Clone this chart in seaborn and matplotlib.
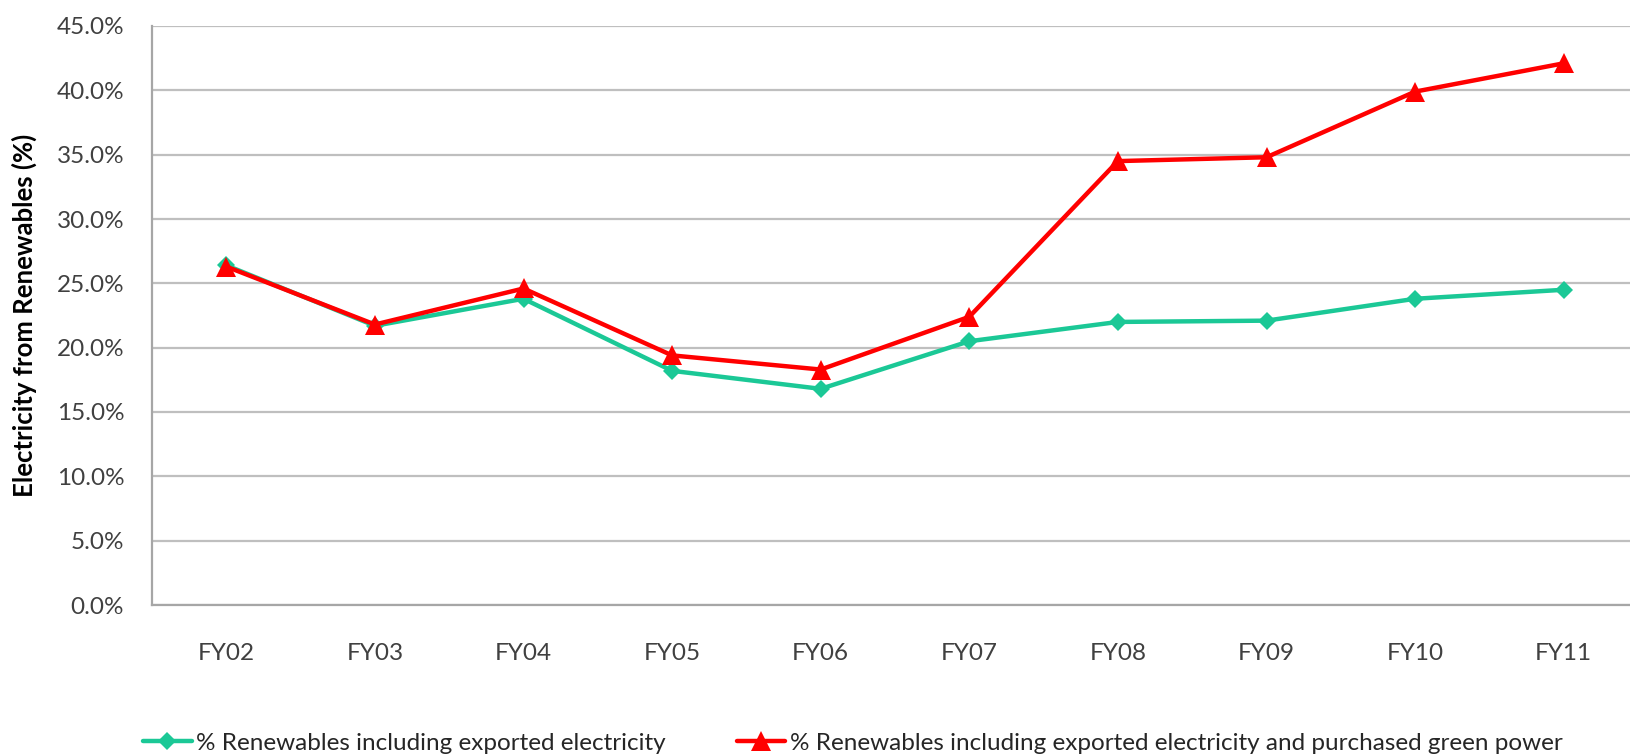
import matplotlib
matplotlib.use("Agg")
import matplotlib.pyplot as plt
import seaborn as sns
import pandas as pd
from matplotlib.ticker import FuncFormatter, MultipleLocator

years = ["FY02", "FY03", "FY04", "FY05", "FY06", "FY07", "FY08", "FY09", "FY10", "FY11"]
renew_exported = [26.4, 21.7, 23.8, 18.2, 16.8, 20.5, 22.0, 22.1, 23.8, 24.5]
renew_exported_green = [26.3, 21.8, 24.6, 19.4, 18.3, 22.4, 34.5, 34.8, 39.9, 42.1]
series_names = ["% Renewables including exported electricity",
                "% Renewables including exported electricity and purchased green power"]

sns.set_theme(style="white")
plt.rcParams['font.family'] = ['Lato', 'DejaVu Sans']

df = pd.DataFrame({
    "year": years * 2,
    "x": list(range(len(years))) * 2,
    "value": renew_exported + renew_exported_green,
    "series": [series_names[0]] * len(years) + [series_names[1]] * len(years),
})

fig = plt.figure(figsize=(16.3, 7.55), dpi=100)
ax = fig.add_axes([152 / 1630, 1 - 605 / 755, (1638 - 152) / 1630, (605 - 26) / 755])

palette = {series_names[0]: "#1bc896", series_names[1]: "#ff0000"}
sns.lineplot(data=df, x="x", y="value", hue="series", style="series",
             markers={series_names[0]: "D", series_names[1]: "^"},
             dashes=False, palette=palette, linewidth=3.2, markersize=11,
             markeredgewidth=0, ax=ax, legend=True)

# adjust marker sizes individually
for line in ax.get_lines():
    if line.get_marker() == "D":
        line.set_markersize(9.5)
    elif line.get_marker() == "^":
        line.set_markersize(14)

ax.set_xlim(-0.5, 9.5)
ax.set_ylim(0, 45)
ax.yaxis.set_major_locator(MultipleLocator(5))
ax.yaxis.set_major_formatter(FuncFormatter(lambda v, p: f"{v:.1f}%"))
ax.set_xticks(range(len(years)))
ax.set_xticklabels(years)
ax.grid(axis="y", color="#bfbfbf", linewidth=1.6)
ax.grid(axis="x", visible=False)
for s in ["top", "right"]:
    ax.spines[s].set_visible(False)
for s in ["left", "bottom"]:
    ax.spines[s].set_color("#a6a6a6")
    ax.spines[s].set_linewidth(1.6)
ax.tick_params(axis="y", length=0, pad=20, labelsize=17.5, labelcolor="#404040")
ax.tick_params(axis="x", length=0, pad=27, labelsize=17.5, labelcolor="#404040")
ax.set_xlabel("")
ax.set_ylabel("Electricity from Renewables (%)", fontsize=18.5, fontweight="bold",
              color="#000000", labelpad=14)

handles, labels = ax.get_legend_handles_labels()
ax.get_legend().remove()
fig.legend(handles, labels, loc="center left", bbox_to_anchor=(143 / 1630, 1 - 743 / 755),
           ncol=2, frameon=False, fontsize=17.5, handlelength=2.0, handletextpad=0.2,
           columnspacing=2.9, borderaxespad=0, borderpad=0, labelcolor="#262626")

fig.savefig("out.png", dpi=100)
